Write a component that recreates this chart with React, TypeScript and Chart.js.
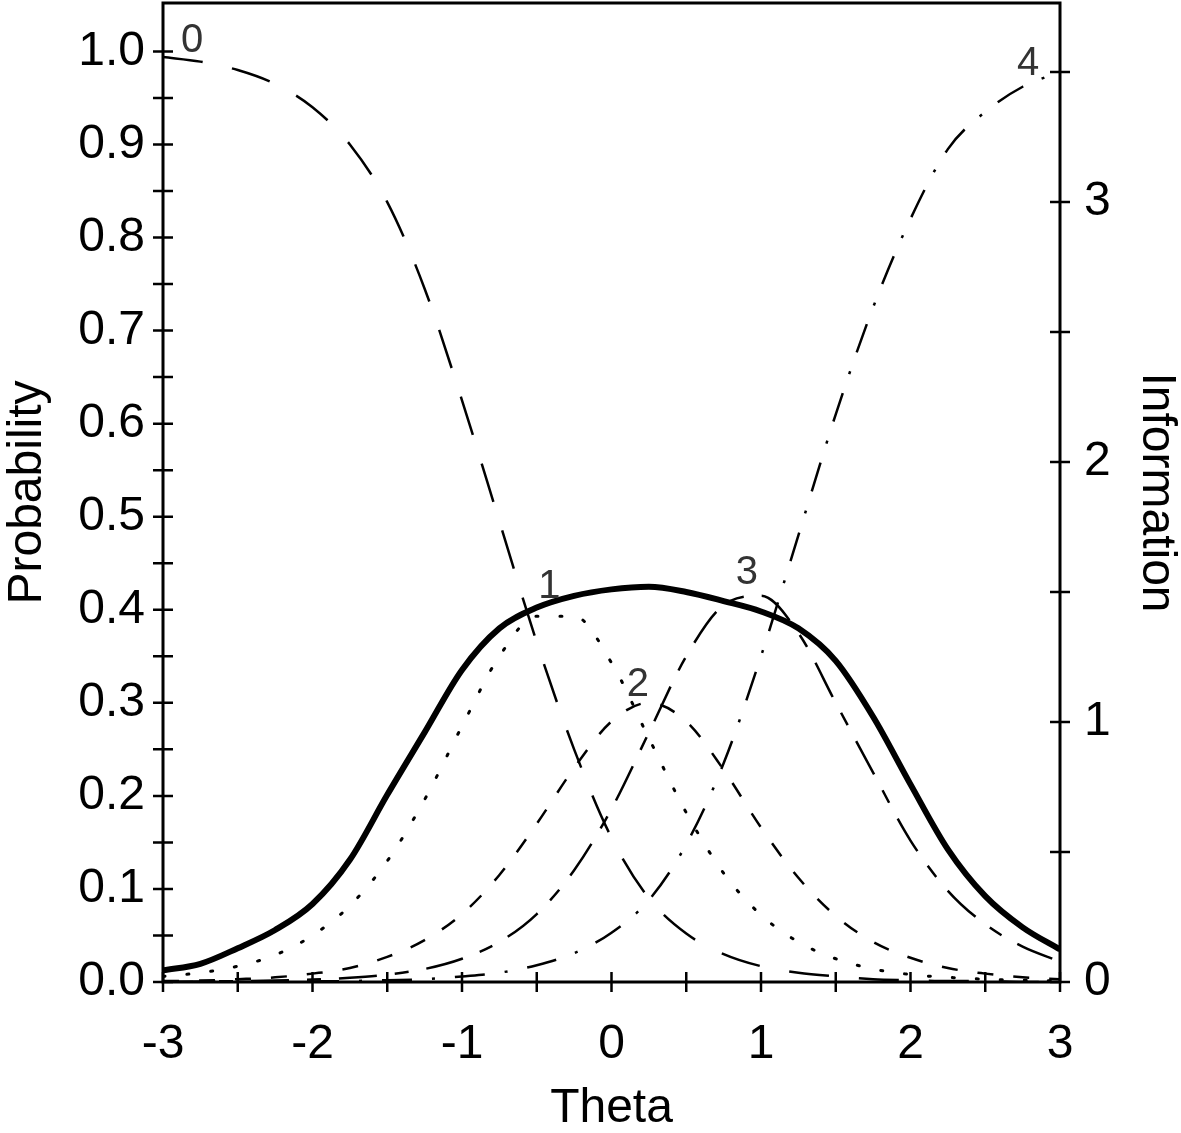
import React, { useEffect, useRef } from "react";
import { Chart, registerables } from "chart.js";

Chart.register(...registerables);

// ---- data ----
const theta = [-3, -2.75, -2.5, -2.25, -2, -1.75, -1.5, -1.25, -1, -0.75, -0.5, -0.25, 0, 0.25, 0.5, 0.75, 1, 1.25, 1.5, 1.75, 2, 2.25, 2.5, 2.75, 3];

const cat0 = [0.994, 0.989, 0.98, 0.965, 0.94, 0.9, 0.838, 0.745, 0.625, 0.495, 0.365, 0.25, 0.155, 0.09, 0.052, 0.03, 0.017, 0.01, 0.006, 0.003, 0.002, 0.001, 0.001, 0.0, 0.0];
const cat1 = [0.006, 0.01, 0.017, 0.029, 0.05, 0.082, 0.13, 0.196, 0.275, 0.35, 0.393, 0.393, 0.343, 0.262, 0.182, 0.117, 0.072, 0.043, 0.025, 0.014, 0.008, 0.005, 0.003, 0.002, 0.001];
const cat2 = [0.001, 0.0015, 0.003, 0.005, 0.009, 0.015, 0.027, 0.045, 0.073, 0.115, 0.17, 0.23, 0.28, 0.3, 0.28, 0.228, 0.166, 0.112, 0.071, 0.043, 0.026, 0.015, 0.009, 0.005, 0.003];
const cat3 = [0.0003, 0.0005, 0.001, 0.0015, 0.0026, 0.0046, 0.008, 0.014, 0.025, 0.043, 0.073, 0.12, 0.186, 0.268, 0.35, 0.405, 0.415, 0.375, 0.3, 0.225, 0.152, 0.098, 0.062, 0.038, 0.022];
const cat4 = [0.0001, 0.0001, 0.0002, 0.0003, 0.0006, 0.001, 0.002, 0.003, 0.006, 0.01, 0.018, 0.031, 0.053, 0.088, 0.148, 0.235, 0.35, 0.48, 0.61, 0.725, 0.82, 0.895, 0.935, 0.962, 0.978];
const information = [0.045, 0.07, 0.13, 0.2, 0.3, 0.47, 0.72, 0.96, 1.2, 1.36, 1.44, 1.485, 1.51, 1.52, 1.5, 1.465, 1.425, 1.36, 1.235, 1.02, 0.76, 0.51, 0.33, 0.21, 0.125];

const xTicks = [-3, -2.5, -2, -1.5, -1, -0.5, 0, 0.5, 1, 1.5, 2, 2.5, 3];
const probTicks = [0, 0.05, 0.1, 0.15, 0.2, 0.25, 0.3, 0.35, 0.4, 0.45, 0.5, 0.55, 0.6, 0.65, 0.7, 0.75, 0.8, 0.85, 0.9, 0.95, 1.0];
const infoTicks = [0, 0.5, 1, 1.5, 2, 2.5, 3, 3.5];

const curveLabels = ["0", "1", "2", "3", "4"];
const curveLabelTheta = [-2.806, -0.415, 0.177, 0.906, 2.786];
const curveLabelProb = [1.011, 0.424, 0.319, 0.44, 0.986];

const FONT = '"Liberation Sans", Arial, Helvetica, sans-serif';

const framePlugin = {
  id: "frame",
  afterDatasetsDraw(chart: any) {
    const { ctx, chartArea: a, scales } = chart;
    ctx.save();
    ctx.strokeStyle = "#000";
    ctx.lineWidth = 3;
    ctx.strokeRect(a.left, a.top, a.right - a.left, a.bottom - a.top);
    ctx.lineWidth = 2.5;
    ctx.beginPath();
    for (const v of xTicks) {
      const px = scales.x.getPixelForValue(v);
      ctx.moveTo(px, a.bottom - 10);
      ctx.lineTo(px, a.bottom + 10);
    }
    for (const v of probTicks) {
      const py = scales.y.getPixelForValue(v);
      ctx.moveTo(a.left - 10, py);
      ctx.lineTo(a.left + 10, py);
    }
    for (const v of infoTicks) {
      const py = scales.y1.getPixelForValue(v);
      ctx.moveTo(a.right - 10, py);
      ctx.lineTo(a.right + 10, py);
    }
    ctx.stroke();
    ctx.fillStyle = "#333";
    ctx.font = `40px ${FONT}`;
    ctx.textAlign = "center";
    ctx.textBaseline = "middle";
    curveLabels.forEach((t, i) => {
      ctx.fillText(
        t,
        scales.x.getPixelForValue(curveLabelTheta[i]),
        scales.y.getPixelForValue(curveLabelProb[i])
      );
    });
    ctx.restore();
  },
};

function pts(arr: number[]) {
  return theta.map((t, i) => ({ x: t, y: arr[i] }));
}

function noPad(s: any) {
  s.paddingTop = 0;
  s.paddingBottom = 0;
  s.paddingLeft = 0;
  s.paddingRight = 0;
}

export default function App() {
  const ref = useRef<HTMLCanvasElement | null>(null);

  useEffect(() => {
    if (!ref.current) return;
    const common = {
      borderColor: "#000",
      backgroundColor: "#000",
      pointRadius: 0,
      fill: false,
      cubicInterpolationMode: "monotone" as const,
      yAxisID: "y",
    };
    const chart = new Chart(ref.current, {
      type: "line",
      data: {
        datasets: [
          { ...common, label: "0", data: pts(cat0), borderWidth: 2.5, borderDash: [40, 30] },
          { ...common, label: "1", data: pts(cat1), borderWidth: 3, borderDash: [2, 22], borderCapStyle: "round" },
          { ...common, label: "2", data: pts(cat2), borderWidth: 2.5, borderDash: [16, 20] },
          { ...common, label: "3", data: pts(cat3), borderWidth: 2.5, borderDash: [38, 18, 14, 18] },
          { ...common, label: "4", data: pts(cat4), borderWidth: 2.5, borderDash: [30, 20, 3, 20] },
          { ...common, label: "Information", data: pts(information), borderWidth: 6, yAxisID: "y1" },
        ],
      },
      options: {
        responsive: false,
        animation: false,
        events: [],
        layout: { autoPadding: false, padding: { top: 3, left: 0, right: 0, bottom: 0 } },
        plugins: { legend: { display: false }, tooltip: { enabled: false } },
        scales: {
          x: {
            type: "linear",
            position: "bottom",
            min: -3,
            max: 3,
            afterFit: (s: any) => { s.height = 151; noPad(s); },
            afterBuildTicks: (s: any) => { s.ticks = xTicks.map((v) => ({ value: v })); },
            grid: { display: false, drawTicks: true, tickLength: 10 },
            border: { display: false },
            ticks: {
              autoSkip: false,
              maxRotation: 0,
              padding: 24,
              color: "#000",
              font: { family: FONT, size: 48 },
              callback: (v: any) => (Number.isInteger(Number(v)) ? String(v) : ""),
            },
            title: {
              display: true,
              text: "Theta",
              color: "#000",
              font: { family: FONT, size: 48, lineHeight: 1.0 },
              padding: { top: 0, bottom: 0 },
            },
          },
          y: {
            type: "linear",
            position: "left",
            min: 0,
            max: 1.052,
            afterFit: (s: any) => { s.width = 163; noPad(s); },
            afterBuildTicks: (s: any) => { s.ticks = probTicks.map((v) => ({ value: v })); },
            grid: { display: false, drawTicks: true, tickLength: 10 },
            border: { display: false },
            ticks: {
              autoSkip: false,
              padding: 8,
              color: "#000",
              font: { family: FONT, size: 48 },
              callback: (v: any) => {
                const n = Math.round(Number(v) * 100);
                return n % 10 === 0 ? (n / 100).toFixed(1) : "";
              },
            },
            title: {
              display: true,
              text: "Probability",
              color: "#000",
              font: { family: FONT, size: 48, lineHeight: 1.0 },
              padding: { top: 4, bottom: 0 },
            },
          },
          y1: {
            type: "linear",
            position: "right",
            min: 0,
            max: 3.765,
            afterFit: (s: any) => { s.width = 121; noPad(s); },
            afterBuildTicks: (s: any) => { s.ticks = infoTicks.map((v) => ({ value: v })); },
            grid: { display: false, drawTicks: true, tickLength: 10 },
            border: { display: false },
            ticks: {
              autoSkip: false,
              padding: 14,
              color: "#000",
              font: { family: FONT, size: 48 },
              callback: (v: any) => (Number.isInteger(Number(v)) ? String(v) : ""),
            },
            title: {
              display: true,
              text: "Information",
              color: "#000",
              font: { family: FONT, size: 48, lineHeight: 1.0 },
              padding: { top: 1, bottom: 0 },
            },
          },
        },
      },
      plugins: [framePlugin],
    } as any);
    return () => chart.destroy();
  }, []);

  return (
    <div style={{ position: "fixed", left: 0, top: 0, width: 1181, height: 1133, background: "#fff" }}>
      <canvas ref={ref} width={1181} height={1133} style={{ display: "block" }} />
    </div>
  );
}
